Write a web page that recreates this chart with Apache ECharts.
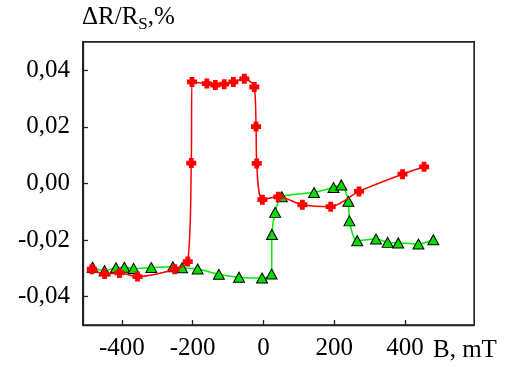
<!DOCTYPE html>
<html>
<head>
<meta charset="utf-8">
<script src="https://cdn.jsdelivr.net/npm/echarts@6/dist/echarts.min.js"></script>
<style>
html,body{margin:0;padding:0;background:#fff}
#wrap{position:relative;width:508px;height:367px}
#c{width:508px;height:367px}
#frame{position:absolute;left:82px;top:41px;width:391px;height:283px;border:1.3px solid #222;pointer-events:none;box-sizing:content-box}
</style>
</head>
<body>
<div id="wrap"><div id="c"></div><div id="frame"></div></div>
<script>
const redB = [-485,-449,-407,-356,-251,-214,-204,-202,-160,-136,-111,-85,-54,-26,-21,-19,-3,42,110,190,270,393,454];
const redV = [-0.0303,-0.032,-0.0316,-0.0329,-0.0303,-0.0276,0.0072,0.0359,0.0353,0.0348,0.0351,0.0359,0.037,0.0341,0.0201,0.0071,-0.0057,-0.0047,-0.0075,-0.0082,-0.0028,0.0033,0.0059];
const greenB = [-483,-449,-417,-393,-367,-317,-256,-230,-186,-126,-69,-4,23,24,33,52,143,198,220,240,243,265,318,351,381,438,480];
const greenV = [-0.0296,-0.0308,-0.0298,-0.0296,-0.030,-0.0297,-0.0294,-0.0298,-0.0302,-0.0321,-0.0331,-0.0334,-0.032,-0.018,-0.0102,-0.0047,-0.0032,-0.0014,-0.0005,-0.0063,-0.0132,-0.0202,-0.0196,-0.0208,-0.021,-0.0214,-0.0199];
const xTicks = [-400,-200,0,200,400];
const yTicks = [-0.04,-0.02,0,0.02,0.04];

const FONT = 'Liberation Serif';
const chart = echarts.init(document.getElementById('c'), null, {renderer:'canvas'});
const zip = (a,b) => a.map((v,i)=>[v,b[i]]);
const crossPath = 'path://M2.6,0H7.4V2.6H10V7.4H7.4V10H2.6V7.4H0V2.6H2.6Z';
const lineCol = '#222';
chart.setOption({
  animation:false,
  grid:{left:83,top:42,right:34,bottom:42,show:true,borderColor:lineCol,borderWidth:1.3},
  xAxis:{type:'value',min:-510,max:595,
    axisLine:{show:true,onZero:false,lineStyle:{color:lineCol,width:1.3}},
    axisTick:{show:true,inside:true,length:5,customValues:xTicks,lineStyle:{color:lineCol,width:1.3}},
    axisLabel:{customValues:xTicks,margin:11,fontFamily:FONT,fontSize:25,color:'#000'},
    splitLine:{show:false}},
  yAxis:{type:'value',min:-0.05,max:0.05,
    axisLine:{show:true,onZero:false,lineStyle:{color:lineCol,width:1.3}},
    axisTick:{show:true,inside:true,length:5,customValues:yTicks,lineStyle:{color:lineCol,width:1.3}},
    axisLabel:{customValues:yTicks,margin:13,fontFamily:FONT,fontSize:25,color:'#000',
      formatter:v=>v.toFixed(2).replace('.',',')},
    splitLine:{show:false}},
  graphic:{elements:[
    {type:'text',id:'ttl',left:82,top:5,style:{rich:{
        a:{fontFamily:FONT,fontSize:25,fill:'#000'},
        s:{fontFamily:FONT,fontSize:17,fill:'#000',verticalAlign:'bottom',padding:[14,0,0,0]}},
      text:'{a|ΔR/R}{s|S}{a|,%}'}},
    {type:'text',id:'bl',left:433,top:338,style:{text:'B, mT',fontFamily:FONT,fontSize:25,fill:'#000'}}
  ]},
  series:[
    {type:'line',data:zip(greenB,greenV),smooth:0.3,symbol:'triangle',symbolSize:[11,10],
      lineStyle:{color:'#00ee00',width:1.5},
      itemStyle:{color:'#00dd00',borderColor:'#000',borderWidth:1},z:2},
    {type:'line',data:zip(redB,redV),smooth:0.3,symbol:crossPath,symbolSize:10,
      lineStyle:{color:'#ff0000',width:1.5},
      itemStyle:{color:'#ff0000',borderWidth:0},z:3}
  ]
});
</script>
</body>
</html>
